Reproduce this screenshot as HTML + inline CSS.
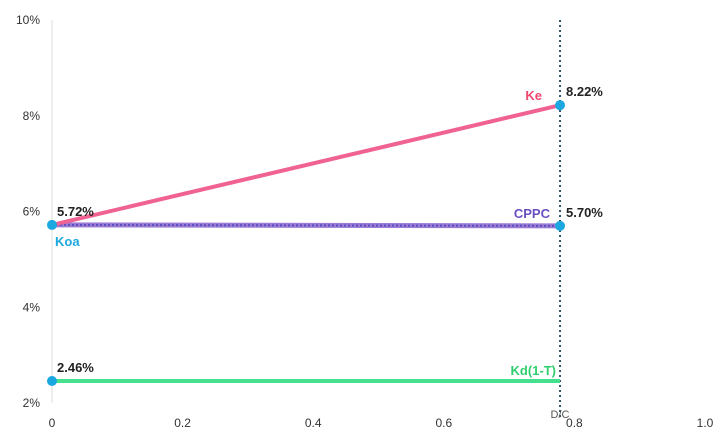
<!DOCTYPE html>
<html><head><meta charset="utf-8"><style>
body{margin:0;background:#fff;font-family:"Liberation Sans",sans-serif}
svg text{font-family:"Liberation Sans",sans-serif}
</style></head><body>
<svg id="c" width="720" height="435"></svg>
<script>
const xTicks=[0,0.2,0.4,0.6,0.8,1.0];
const xTickLabels=["0","0.2","0.4","0.6","0.8","1.0"];
const yTicks=[2,4,6,8,10];
const yTickLabels=["2%","4%","6%","8%","10%"];
const dc=0.778;
const keVals=[5.72,8.22];
const cppcVals=[5.72,5.70];
const kdVals=[2.46,2.46];
const seriesNames=["Ke","CPPC","Kd(1-T)"];
const X=v=>52+v*653, Y=v=>20+(10-v)/8*383;
const s=document.getElementById('c'),NS="http://www.w3.org/2000/svg";
function el(t,a,txt){const e=document.createElementNS(NS,t);for(const k in a)e.setAttribute(k,a[k]);if(txt!=null)e.textContent=txt;s.appendChild(e);return e;}
let e=el('line',{x1:52,x2:52,y1:20,y2:403,stroke:'#ddd','stroke-width':1});


yTicks.forEach((v,i)=>{const t=el('text',{x:40,y:Y(v)+4,'text-anchor':'end','font-size':12,fill:'#333'},yTickLabels[i]);

});
xTicks.forEach((v,i)=>{const t=el('text',{x:X(v),y:427,'text-anchor':'middle','font-size':12,fill:'#333'},xTickLabels[i]);

});
e=el('line',{x1:X(dc),x2:X(dc),y1:20,y2:420,stroke:'#2f5466','stroke-width':2,'stroke-dasharray':'2,3'});


e=el('text',{x:X(dc),y:418,'text-anchor':'middle','font-size':11,fill:'#555'},'D/C');


e=el('line',{x1:X(0),x2:X(dc),y1:Y(kdVals[0]),y2:Y(kdVals[1]),stroke:'#45e08e','stroke-width':4});


e=el('line',{x1:X(0),x2:X(dc),y1:Y(cppcVals[0]),y2:Y(cppcVals[1]),stroke:'#9b7bd4','stroke-width':5});


e=el('line',{x1:X(0),x2:X(dc),y1:Y(cppcVals[0]),y2:Y(cppcVals[1]),stroke:'#5a4fc0','stroke-width':2,'stroke-dasharray':'2,2'});


e=el('line',{x1:X(0),x2:X(dc),y1:Y(keVals[0]),y2:Y(keVals[1]),stroke:'#f06292','stroke-width':4});


[[0,keVals[0]],[0,kdVals[0]],[dc,keVals[1]],[dc,cppcVals[1]]].forEach(p=>{const c=el('circle',{cx:X(p[0]),cy:Y(p[1]),r:5,fill:'#1ba7e0'});

});
function lab(x,y,t,col,anchor,name){const l=el('text',{x:x,y:y,'font-size':13,'font-weight':'bold',fill:col,'text-anchor':anchor||'start'},t);

}
lab(57,Y(keVals[0])-9,keVals[0].toFixed(2)+'%','#222','start','ke-start-value');
lab(57,Y(kdVals[0])-9,kdVals[0].toFixed(2)+'%','#222','start','kd-value');
lab(566,Y(keVals[1])-9,keVals[1].toFixed(2)+'%','#222','start','ke-end-value');
lab(566,Y(cppcVals[1])-9,cppcVals[1].toFixed(2)+'%','#222','start','cppc-value');
lab(55,Y(keVals[0])+21,'Koa','#1ba7e0','start','koa-label');
lab(542,Y(keVals[1])-5,seriesNames[0],'#f0476f','end','ke-label');
lab(550,Y(cppcVals[1])-8,seriesNames[1],'#6a4fc0','end','cppc-label');
lab(556,Y(kdVals[1])-6,seriesNames[2],'#2fcf6f','end','kd-label');
</script>
</body></html>
